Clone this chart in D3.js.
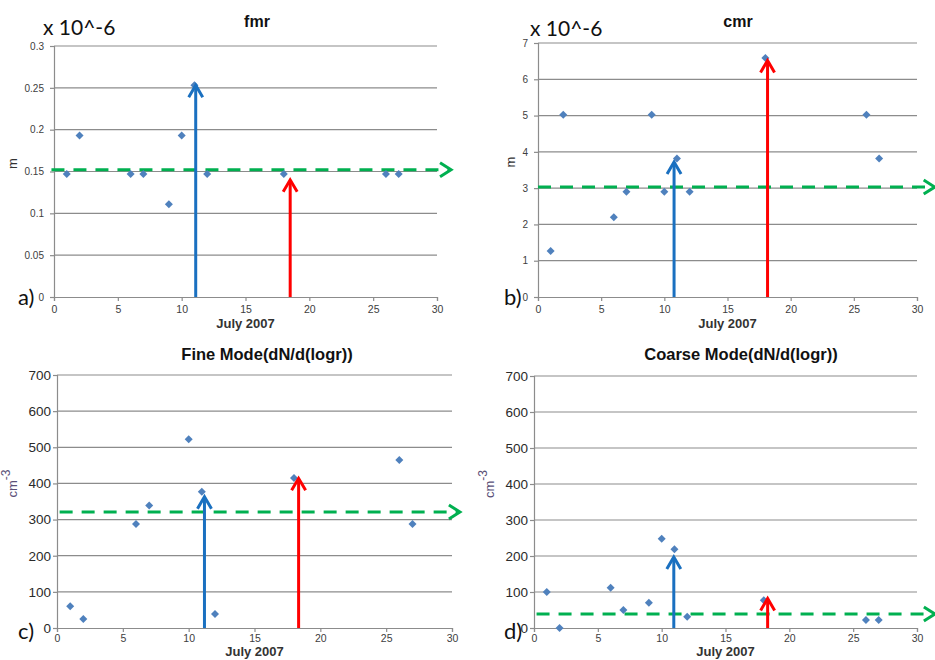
<!DOCTYPE html>
<html>
<head>
<meta charset="utf-8">
<script src="https://cdn.jsdelivr.net/npm/d3@7"></script>
<style>
  body { margin: 0; background: #fff; }
  svg { display: block; font-family: "Liberation Sans", Arial, sans-serif; }
</style>
</head>
<body>
<svg id="chart" width="935" height="660"></svg>
<script>
// days of July 2007 with measurements
const daysABD = [1, 2, 6, 7, 9, 10, 11, 12, 18, 26, 27];
const daysC = [1, 2, 6, 7, 10, 11, 12, 18, 26, 27];

// series values
const fmrValues = [0.147, 0.193, 0.147, 0.147, 0.111, 0.193, 0.253, 0.147, 0.147, 0.147, 0.147];
const cmrValues = [1.27, 5.02, 2.2, 2.9, 5.02, 2.9, 3.82, 2.9, 6.59, 5.02, 3.82];
const fineValues = [60, 25, 288, 339, 522, 377, 39, 415, 465, 288];
const coarseValues = [100, 0, 112, 50, 70, 248, 219, 31, 77, 22, 22];

// tick labels
const xTicks = [0, 5, 10, 15, 20, 25, 30];
const fmrTicks = [0, 0.05, 0.1, 0.15, 0.2, 0.25, 0.3];
const cmrTicks = [0, 1, 2, 3, 4, 5, 6, 7];
const modeTicks = [0, 100, 200, 300, 400, 500, 600, 700];

// reference level (green) and arrows [day, value]
const meanLevels = [0.152, 3.03, 321, 39];
const blueArrows = [[11.1, 0.253], [10.77, 3.72], [11.2, 363], [10.95, 197]];
const redArrows = [[18.5, 0.14], [18.17, 6.52], [18.35, 414], [18.3, 82]];

const titles = ["fmr", "cmr", "Fine Mode(dN/d(logr))", "Coarse Mode(dN/d(logr))"];
const letters = ["a)", "b)", "c)", "d)"];

const panels = [
  { x: daysABD, y: fmrValues, ticks: fmrTicks, yMax: 0.3, box: [54, 437, 46, 297],
    greenFrom: -0.2, greenTo: 31.1, big: false, unit: "m", scaleNote: true,
    fmt: d => d === 0 ? "0" : String(d) },
  { x: daysABD, y: cmrValues, ticks: cmrTicks, yMax: 7, box: [538, 917, 43, 297],
    greenFrom: 0, greenTo: 31.4, big: false, unit: "m", scaleNote: true,
    fmt: d => String(d) },
  { x: daysC, y: fineValues, ticks: modeTicks, yMax: 700, box: [57, 452, 375, 628],
    greenFrom: 0.2, greenTo: 30.6, big: true, unit: "cm", scaleNote: false,
    fmt: d => String(d) },
  { x: daysABD, y: coarseValues, ticks: modeTicks, yMax: 700, box: [534, 917, 376, 628],
    greenFrom: 0.2, greenTo: 31.4, big: true, unit: "cm", scaleNote: false,
    fmt: d => String(d) }
];

const svg = d3.select("#chart");
const gridColor = "#8c8c8c";

panels.forEach(function(p, i) {
  const [left, right, top, bottom] = p.box;
  const x = d3.scaleLinear().domain([0, 30]).range([left, right]);
  const y = d3.scaleLinear().domain([0, p.yMax]).range([bottom, top]);
  const g = svg.append("g");

  // gridlines
  g.selectAll(".grid")
    .data(p.ticks.filter(t => t > 0))
    .enter()
    .append("line")
    .attr("x1", left).attr("x2", right)
    .attr("y1", d => y(d)).attr("y2", d => y(d))
    .attr("stroke", gridColor).attr("stroke-width", 1.2);

  // axes
  const yAxis = g.append("g")
    .attr("transform", "translate(" + left + ",0)")
    .call(d3.axisLeft(y).tickValues(p.ticks).tickSize(4)
      .tickPadding(p.big ? 2 : 6).tickFormat(p.fmt));
  const xAxis = g.append("g")
    .attr("transform", "translate(0," + bottom + ")")
    .call(d3.axisBottom(x).tickValues(xTicks).tickSize(4).tickPadding(p.big ? 3 : 5));

  [yAxis, xAxis].forEach(function(a) {
    a.select(".domain").attr("stroke", gridColor).attr("stroke-width", 1.2);
    a.selectAll(".tick line").attr("stroke", gridColor).attr("stroke-width", 1.2);
    a.selectAll("text").attr("fill", "#3a3a3a").attr("font-family", "Liberation Sans, Arial, sans-serif");
  });
  yAxis.selectAll("text")
    .attr("font-size", p.big ? 13.5 : 10)
    .attr("fill", p.big ? "#2a2a2a" : "#404040");
  xAxis.selectAll("text").attr("font-size", 10.5).attr("fill", "#404040");

  // x axis title
  g.append("text")
    .attr("x", x(15)).attr("y", bottom + (p.big ? 28 : 31))
    .attr("text-anchor", "middle")
    .attr("font-size", 13).attr("font-weight", "bold").attr("fill", "#333")
    .text("July 2007");

  // chart title
  g.append("text")
    .attr("x", i % 2 === 0 ? (p.big ? 267 : 257) : (p.big ? 741 : 738))
    .attr("y", p.big ? 360 : 27)
    .attr("text-anchor", "middle")
    .attr("font-size", p.big ? 16.5 : 16).attr("font-weight", "bold").attr("fill", "#111")
    .text(titles[i]);

  // unit label
  const unitX = p.big ? left - 40 : left - (i === 0 ? 37 : 23);
  const unitY = (top + bottom) / 2 - (p.big ? 18 : 8);
  const unit = g.append("text")
    .attr("transform", "translate(" + unitX + "," + unitY + ") rotate(-90)")
    .attr("text-anchor", "middle")
    .attr("font-size", 13)
    .attr("fill", p.big ? "#5a5078" : "#333");
  if (p.unit === "cm") {
    unit.append("tspan").text("cm");
    unit.append("tspan").attr("dy", -7).attr("font-size", 12).text("-3");
  } else {
    unit.text("m");
  }

  // scale note
  if (p.scaleNote) {
    g.append("text")
      .attr("x", left - (i === 0 ? 11 : 8)).attr("y", i === 0 ? 35 : 36)
      .attr("font-family", "Lato, 'Open Sans', sans-serif")
      .attr("font-size", 21).attr("fill", "#111")
      .text("x 10^-6");
  }

  // panel letter
  g.append("text")
    .attr("x", i % 2 === 0 ? 18 : 504)
    .attr("y", (i < 2 ? 297 : 631) + 8)
    .attr("font-family", "Lato, 'Open Sans', sans-serif")
    .attr("font-size", 22).attr("fill", "#111")
    .text(letters[i]);

  // green reference line with open arrow head
  const gy = y(meanLevels[i]);
  const gx1 = x(p.greenFrom), gx2 = x(p.greenTo);
  g.append("line")
    .attr("x1", gx1).attr("x2", gx2 - 2).attr("y1", gy).attr("y2", gy)
    .attr("stroke", "#00b050").attr("stroke-width", 3)
    .attr("stroke-dasharray", "13,9");
  g.append("path")
    .attr("d", "M" + (gx2 - 11) + "," + (gy - 7) + "L" + gx2 + "," + gy + "L" + (gx2 - 11) + "," + (gy + 7))
    .attr("fill", "none").attr("stroke", "#00b050").attr("stroke-width", 3);

  // markers
  const pts = p.x.map((d, k) => [d, p.y[k]]);
  g.selectAll(".pt")
    .data(pts)
    .enter()
    .append("path")
    .attr("d", d3.symbol(d3.symbolSquare, 32))
    .attr("transform", d => "translate(" + x(d[0]) + "," + y(d[1]) + ") rotate(45)")
    .attr("fill", "#4f81bd");

  // blue and red arrows
  [[blueArrows[i], "#1a70c0"], [redArrows[i], "#ff0000"]].forEach(function(a) {
    const ax = x(a[0][0]), ay = y(a[0][1]);
    g.append("line")
      .attr("x1", ax).attr("x2", ax).attr("y1", bottom).attr("y2", ay + 1)
      .attr("stroke", a[1]).attr("stroke-width", 3);
    g.append("path")
      .attr("d", "M" + (ax - 7) + "," + (ay + 12) + "L" + ax + "," + ay + "L" + (ax + 7) + "," + (ay + 12))
      .attr("fill", "none").attr("stroke", a[1]).attr("stroke-width", 3);
  });
});
</script>
</body>
</html>
